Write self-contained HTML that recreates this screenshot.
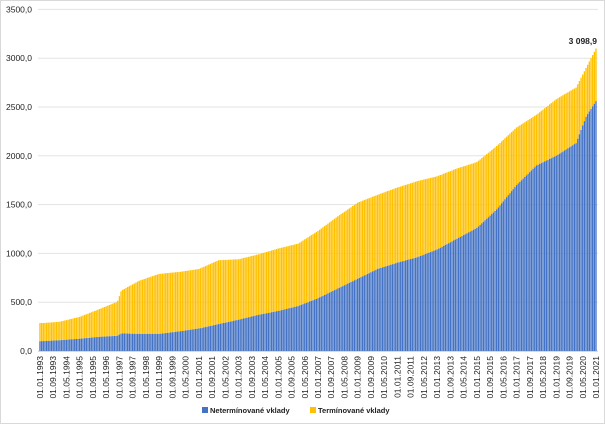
<!DOCTYPE html>
<html><head><meta charset="utf-8"><style>
html,body{margin:0;padding:0;background:#fff}
svg{display:block}
text{font-family:"Liberation Sans",sans-serif;fill:#222}
</style></head><body>
<svg id="c" width="605" height="424" viewBox="0 0 605 424" xmlns="http://www.w3.org/2000/svg">
<rect x="0.5" y="0.5" width="604" height="423" fill="#fff" stroke="#d9d9d9"/>
</svg>
<script>
const s=document.getElementById('c');const NS='http://www.w3.org/2000/svg';
function el(t,a,txt){const e=document.createElementNS(NS,t);for(const k in a)e.setAttribute(k,a[k]);if(txt!==undefined)e.textContent=txt;s.appendChild(e);return e;}
const y0=351,pp=48.8/500;const Y=v=>y0-v*pp;
for(let i=0;i<=7;i++){const y=Y(i*500);el('line',{x1:38,x2:598,y1:y,y2:y,stroke:'#e3e3e3','stroke-width':1});
el('text',{x:32,y:y+3,'text-anchor':'end','font-size':8.5},(i*500)+',0');}
const K=[[1993,285,100],[1994,300,110],[1995,350,125],[1996,430,145],[1996.9,505,155],[1997.1,620,180],[1998,720,175],[1999,790,175],[2000,810,200],[2001,840,230],[2002,930,275],[2003,940,320],[2004,990,370],[2005,1050,410],[2006,1100,460],[2007,1230,540],[2008,1380,640],[2009,1520,740],[2010,1600,840],[2011,1675,905],[2012,1740,960],[2013,1790,1040],[2014,1870,1150],[2015,1935,1260],[2016,2100,1450],[2017,2290,1700],[2018,2420,1900],[2019,2580,2000],[2020,2700,2130],[2020.5,2900,2400],[2021,3099,2560]];
function f(t,j){for(let i=0;i<K.length-1;i++){if(t<=K[i+1][0]){const a=K[i],b=K[i+1];const r=(t-a[0])/(b[0]-a[0]);return a[j]+(b[j]-a[j])*r;}}return K[K.length-1][j];}
const x0=40,x1=596,N=336,dx=(x1-x0)/N;
let pb='',po='';
for(let m=0;m<=N;m++){const t=1993+m/12;const tot=f(t,1),bl=f(t,2);const x=x0+m*dx-0.7;
pb+=`M${x.toFixed(2)} ${Y(bl).toFixed(2)}h1.35V${y0}h-1.35z`;
po+=`M${x.toFixed(2)} ${Y(tot).toFixed(2)}h1.35V${Y(bl).toFixed(2)}h-1.35z`;}
el('path',{d:po,fill:'#ffc000'});el('path',{d:pb,fill:'#4472c4'});
el('line',{x1:38,x2:598,y1:y0+0.5,y2:y0+0.5,stroke:'#d9d9d9'});
el('text',{x:597,y:44,'text-anchor':'end','font-size':8.5,'font-weight':'bold'},'3 098,9');
const ms=['01','09','05'];
for(let i=0;i<=42;i++){const mo=i*8;const yr=1993+Math.floor(mo/12);const mm=mo%12;const lab='01.'+String(mm+1).padStart(2,'0')+'.'+yr;const x=x0+mo*dx+3;
el('text',{x:0,y:0,'font-size':8.5,'text-anchor':'end',transform:`translate(${x.toFixed(2)},356) rotate(-90)`},lab);}
el('rect',{x:202,y:407,width:6,height:6,fill:'#4472c4'});
el('text',{x:210,y:413,'font-size':7.5,'font-weight':'bold'},'Netermínované vklady');
el('rect',{x:310,y:407,width:6,height:6,fill:'#ffc000'});
el('text',{x:318,y:413,'font-size':7.5,'font-weight':'bold'},'Termínované vklady');
</script>
</body></html>
